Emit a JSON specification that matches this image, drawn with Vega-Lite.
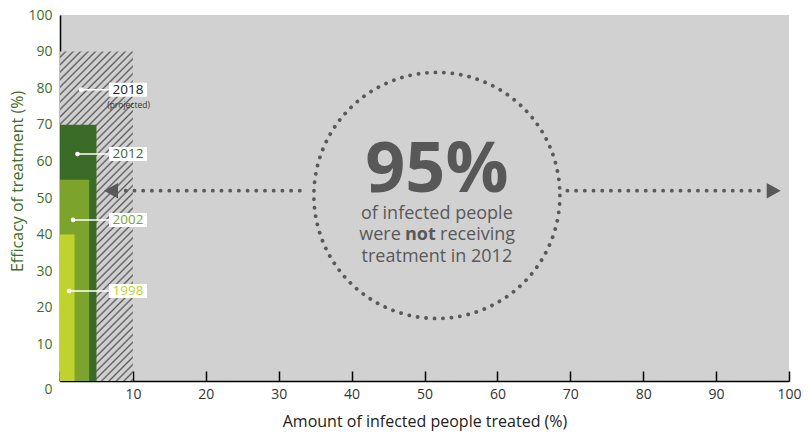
{
  "$schema": "https://vega.github.io/schema/vega-lite/v6.json",
  "width": 729,
  "height": 366,
  "autosize": {"type": "none"},
  "padding": {"left": 60, "top": 15, "right": 19, "bottom": 58},
  "background": "white",
  "config": {
    "view": {"fill": "#d1d1d1", "stroke": null},
    "font": "Open Sans",
    "axis": {"grid": false, "domainColor": "#000000", "domainWidth": 1.5, "labelFont": "Open Sans", "titleFont": "Open Sans", "titleFontWeight": "normal", "labelOverlap": false, "labelSeparation": 0, "labelFlush": false, "labelBound": false}
  },
  "datasets": {
    "bars": [
      {"year": "2012", "treated": 5, "efficacy": 70},
      {"year": "2002", "treated": 4, "efficacy": 55},
      {"year": "1998", "treated": 2, "efficacy": 40}
    ],
    "projected": [{"year": "2018", "treated": 10, "efficacy": 90}],
    "labels": [
      {"year": "2018", "dotX": 2.9, "y": 79.6, "labelX": 9.33},
      {"year": "2012", "dotX": 2.4, "y": 62.0, "labelX": 9.33},
      {"year": "2002", "dotX": 1.8, "y": 44.0, "labelX": 9.33},
      {"year": "1998", "dotX": 1.25, "y": 24.6, "labelX": 9.33}
    ],
    "notes": [{"text": "(projected)", "x": 9.4, "y": 75.5}],
    "arrows": [
      {"dir": "left", "from": 32.9, "to": 8.2, "y": 52, "head": 7.0},
      {"dir": "right", "from": 69.6, "to": 96.6, "y": 52, "head": 97.9}
    ],
    "callout": [{"x": 51.7, "y": 50.7}],
    "big": [{"text": "95%", "x": 51.7, "y": 51.7}],
    "lines": [
      {"text": "of infected people", "x": 51.7, "y": 44.3},
      {"text": "treatment in 2012", "x": 51.7, "y": 32.5}
    ],
    "line2": [{"were": "were", "not": "not", "receiving": "receiving", "xWere": 46.75, "xNot": 49.44, "xRec": 52.13, "y": 38.4}]
  },
  "layer": [
    {
      "data": {"name": "projected"},
      "mark": {
        "type": "rect",
        "fill": {
          "gradient": "linear", "x1": 0, "y1": 0, "x2": 0.2586, "y2": 1.165,
          "stops": [
            {"offset": 0, "color": "#d0d0d0"}, {"offset": 0.0093, "color": "#d0d0d0"}, {"offset": 0.0144, "color": "#5a5a5a"},
            {"offset": 0.0185, "color": "#d0d0d0"}, {"offset": 0.0278, "color": "#d0d0d0"}, {"offset": 0.0329, "color": "#5a5a5a"},
            {"offset": 0.0370, "color": "#d0d0d0"}, {"offset": 0.0463, "color": "#d0d0d0"}, {"offset": 0.0514, "color": "#5a5a5a"},
            {"offset": 0.0556, "color": "#d0d0d0"}, {"offset": 0.0648, "color": "#d0d0d0"}, {"offset": 0.0700, "color": "#5a5a5a"},
            {"offset": 0.0741, "color": "#d0d0d0"}, {"offset": 0.0833, "color": "#d0d0d0"}, {"offset": 0.0885, "color": "#5a5a5a"},
            {"offset": 0.0926, "color": "#d0d0d0"}, {"offset": 0.1019, "color": "#d0d0d0"}, {"offset": 0.1070, "color": "#5a5a5a"},
            {"offset": 0.1111, "color": "#d0d0d0"}, {"offset": 0.1204, "color": "#d0d0d0"}, {"offset": 0.1255, "color": "#5a5a5a"},
            {"offset": 0.1296, "color": "#d0d0d0"}, {"offset": 0.1389, "color": "#d0d0d0"}, {"offset": 0.1441, "color": "#5a5a5a"},
            {"offset": 0.1481, "color": "#d0d0d0"}, {"offset": 0.1574, "color": "#d0d0d0"}, {"offset": 0.1626, "color": "#5a5a5a"},
            {"offset": 0.1667, "color": "#d0d0d0"}, {"offset": 0.1759, "color": "#d0d0d0"}, {"offset": 0.1811, "color": "#5a5a5a"},
            {"offset": 0.1852, "color": "#d0d0d0"}, {"offset": 0.1944, "color": "#d0d0d0"}, {"offset": 0.1996, "color": "#5a5a5a"},
            {"offset": 0.2037, "color": "#d0d0d0"}, {"offset": 0.2130, "color": "#d0d0d0"}, {"offset": 0.2181, "color": "#5a5a5a"},
            {"offset": 0.2222, "color": "#d0d0d0"}, {"offset": 0.2315, "color": "#d0d0d0"}, {"offset": 0.2367, "color": "#5a5a5a"},
            {"offset": 0.2407, "color": "#d0d0d0"}, {"offset": 0.2500, "color": "#d0d0d0"}, {"offset": 0.2552, "color": "#5a5a5a"},
            {"offset": 0.2593, "color": "#d0d0d0"}, {"offset": 0.2685, "color": "#d0d0d0"}, {"offset": 0.2737, "color": "#5a5a5a"},
            {"offset": 0.2778, "color": "#d0d0d0"}, {"offset": 0.2870, "color": "#d0d0d0"}, {"offset": 0.2922, "color": "#5a5a5a"},
            {"offset": 0.2963, "color": "#d0d0d0"}, {"offset": 0.3056, "color": "#d0d0d0"}, {"offset": 0.3107, "color": "#5a5a5a"},
            {"offset": 0.3148, "color": "#d0d0d0"}, {"offset": 0.3241, "color": "#d0d0d0"}, {"offset": 0.3293, "color": "#5a5a5a"},
            {"offset": 0.3333, "color": "#d0d0d0"}, {"offset": 0.3426, "color": "#d0d0d0"}, {"offset": 0.3478, "color": "#5a5a5a"},
            {"offset": 0.3519, "color": "#d0d0d0"}, {"offset": 0.3611, "color": "#d0d0d0"}, {"offset": 0.3663, "color": "#5a5a5a"},
            {"offset": 0.3704, "color": "#d0d0d0"}, {"offset": 0.3796, "color": "#d0d0d0"}, {"offset": 0.3848, "color": "#5a5a5a"},
            {"offset": 0.3889, "color": "#d0d0d0"}, {"offset": 0.3981, "color": "#d0d0d0"}, {"offset": 0.4033, "color": "#5a5a5a"},
            {"offset": 0.4074, "color": "#d0d0d0"}, {"offset": 0.4167, "color": "#d0d0d0"}, {"offset": 0.4219, "color": "#5a5a5a"},
            {"offset": 0.4259, "color": "#d0d0d0"}, {"offset": 0.4352, "color": "#d0d0d0"}, {"offset": 0.4404, "color": "#5a5a5a"},
            {"offset": 0.4444, "color": "#d0d0d0"}, {"offset": 0.4537, "color": "#d0d0d0"}, {"offset": 0.4589, "color": "#5a5a5a"},
            {"offset": 0.4630, "color": "#d0d0d0"}, {"offset": 0.4722, "color": "#d0d0d0"}, {"offset": 0.4774, "color": "#5a5a5a"},
            {"offset": 0.4815, "color": "#d0d0d0"}, {"offset": 0.4907, "color": "#d0d0d0"}, {"offset": 0.4959, "color": "#5a5a5a"},
            {"offset": 0.5000, "color": "#d0d0d0"}, {"offset": 0.5093, "color": "#d0d0d0"}, {"offset": 0.5144, "color": "#5a5a5a"},
            {"offset": 0.5185, "color": "#d0d0d0"}, {"offset": 0.5278, "color": "#d0d0d0"}, {"offset": 0.5329, "color": "#5a5a5a"},
            {"offset": 0.5370, "color": "#d0d0d0"}, {"offset": 0.5463, "color": "#d0d0d0"}, {"offset": 0.5515, "color": "#5a5a5a"},
            {"offset": 0.5556, "color": "#d0d0d0"}, {"offset": 0.5648, "color": "#d0d0d0"}, {"offset": 0.5700, "color": "#5a5a5a"},
            {"offset": 0.5741, "color": "#d0d0d0"}, {"offset": 0.5833, "color": "#d0d0d0"}, {"offset": 0.5885, "color": "#5a5a5a"},
            {"offset": 0.5926, "color": "#d0d0d0"}, {"offset": 0.6019, "color": "#d0d0d0"}, {"offset": 0.6070, "color": "#5a5a5a"},
            {"offset": 0.6111, "color": "#d0d0d0"}, {"offset": 0.6204, "color": "#d0d0d0"}, {"offset": 0.6255, "color": "#5a5a5a"},
            {"offset": 0.6296, "color": "#d0d0d0"}, {"offset": 0.6389, "color": "#d0d0d0"}, {"offset": 0.6441, "color": "#5a5a5a"},
            {"offset": 0.6481, "color": "#d0d0d0"}, {"offset": 0.6574, "color": "#d0d0d0"}, {"offset": 0.6626, "color": "#5a5a5a"},
            {"offset": 0.6667, "color": "#d0d0d0"}, {"offset": 0.6759, "color": "#d0d0d0"}, {"offset": 0.6811, "color": "#5a5a5a"},
            {"offset": 0.6852, "color": "#d0d0d0"}, {"offset": 0.6944, "color": "#d0d0d0"}, {"offset": 0.6996, "color": "#5a5a5a"},
            {"offset": 0.7037, "color": "#d0d0d0"}, {"offset": 0.7130, "color": "#d0d0d0"}, {"offset": 0.7181, "color": "#5a5a5a"},
            {"offset": 0.7222, "color": "#d0d0d0"}, {"offset": 0.7315, "color": "#d0d0d0"}, {"offset": 0.7367, "color": "#5a5a5a"},
            {"offset": 0.7407, "color": "#d0d0d0"}, {"offset": 0.7500, "color": "#d0d0d0"}, {"offset": 0.7552, "color": "#5a5a5a"},
            {"offset": 0.7593, "color": "#d0d0d0"}, {"offset": 0.7685, "color": "#d0d0d0"}, {"offset": 0.7737, "color": "#5a5a5a"},
            {"offset": 0.7778, "color": "#d0d0d0"}, {"offset": 0.7870, "color": "#d0d0d0"}, {"offset": 0.7922, "color": "#5a5a5a"},
            {"offset": 0.7963, "color": "#d0d0d0"}, {"offset": 0.8056, "color": "#d0d0d0"}, {"offset": 0.8107, "color": "#5a5a5a"},
            {"offset": 0.8148, "color": "#d0d0d0"}, {"offset": 0.8241, "color": "#d0d0d0"}, {"offset": 0.8293, "color": "#5a5a5a"},
            {"offset": 0.8333, "color": "#d0d0d0"}, {"offset": 0.8426, "color": "#d0d0d0"}, {"offset": 0.8478, "color": "#5a5a5a"},
            {"offset": 0.8519, "color": "#d0d0d0"}, {"offset": 0.8611, "color": "#d0d0d0"}, {"offset": 0.8663, "color": "#5a5a5a"},
            {"offset": 0.8704, "color": "#d0d0d0"}, {"offset": 0.8796, "color": "#d0d0d0"}, {"offset": 0.8848, "color": "#5a5a5a"},
            {"offset": 0.8889, "color": "#d0d0d0"}, {"offset": 0.8981, "color": "#d0d0d0"}, {"offset": 0.9033, "color": "#5a5a5a"},
            {"offset": 0.9074, "color": "#d0d0d0"}, {"offset": 0.9167, "color": "#d0d0d0"}, {"offset": 0.9219, "color": "#5a5a5a"},
            {"offset": 0.9259, "color": "#d0d0d0"}, {"offset": 0.9352, "color": "#d0d0d0"}, {"offset": 0.9404, "color": "#5a5a5a"},
            {"offset": 0.9444, "color": "#d0d0d0"}, {"offset": 0.9537, "color": "#d0d0d0"}, {"offset": 0.9589, "color": "#5a5a5a"},
            {"offset": 0.9630, "color": "#d0d0d0"}, {"offset": 0.9722, "color": "#d0d0d0"}, {"offset": 0.9774, "color": "#5a5a5a"},
            {"offset": 0.9815, "color": "#d0d0d0"}, {"offset": 0.9907, "color": "#d0d0d0"}, {"offset": 0.9959, "color": "#5a5a5a"},
            {"offset": 1, "color": "#d0d0d0"}
          ]
        }
      },
      "encoding": {
        "x": {"field": "treated", "type": "quantitative", "scale": {"domain": [0, 100], "nice": false},
          "axis": {
            "title": "Amount of infected people treated (%)",
            "values": [0, 10, 20, 30, 40, 50, 60, 70, 80, 90, 100],
            "tickCount": 20,
            "labelExpr": "datum.value === 0 ? '' : datum.label",
            "labelFontSize": 14, "labelColor": "#333333", "labelOverlap": false,
            "ticks": true, "tickSize": -10, "tickColor": "#000000", "tickWidth": 1.5,
            "labelPadding": 16, "labelBaseline": "top",
            "titleFontSize": 16, "titleColor": "#222222", "titleY": 40, "titleBaseline": "middle"
          }
        },
        "x2": {"datum": 0},
        "y": {"field": "efficacy", "type": "quantitative", "scale": {"domain": [0, 100], "nice": false},
          "axis": {
            "title": "Efficacy of treatment (%)",
            "values": [0, 10, 20, 30, 40, 50, 60, 70, 80, 90, 100],
            "tickCount": 20,
            "labelFontSize": 14, "labelColor": "#3f6e2a", "labelOverlap": false,
            "ticks": true, "tickSize": 0, "tickOpacity": 0, "labelPadding": 8,
            "labelBaseline": "middle",
            "labelOffset": {"condition": {"test": "datum.value === 0", "value": 8}, "value": 0},
            "titleFontSize": 16, "titleColor": "#3f6e2a",
            "titleAngle": -90, "titleX": -43, "titleY": 166, "titleAlign": "center", "titleBaseline": "middle"
          }
        },
        "y2": {"datum": 0}
      }
    },
    {
      "data": {"name": "bars"},
      "mark": {"type": "rect"},
      "encoding": {
        "x": {"field": "treated", "type": "quantitative"},
        "x2": {"datum": 0},
        "y": {"field": "efficacy", "type": "quantitative"},
        "y2": {"datum": 0},
        "fill": {"field": "year", "type": "nominal", "sort": null,
          "scale": {"domain": ["1998", "2002", "2012", "2018"], "range": ["#c0d22e", "#7ca32c", "#3a6b27", "#222222"]},
          "legend": null}
      }
    },
    {
      "data": {"name": "labels"},
      "mark": {"type": "rule", "color": "#ffffff", "strokeWidth": 1.5},
      "encoding": {
        "x": {"field": "dotX", "type": "quantitative"},
        "x2": {"field": "labelX"},
        "y": {"field": "y", "type": "quantitative"}
      }
    },
    {
      "data": {"name": "labels"},
      "mark": {"type": "point", "shape": "circle", "filled": true, "fill": "#ffffff", "opacity": 1, "size": 22},
      "encoding": {
        "x": {"field": "dotX", "type": "quantitative"},
        "y": {"field": "y", "type": "quantitative"}
      }
    },
    {
      "data": {"name": "labels"},
      "mark": {"type": "point", "shape": "M-19,-7L19,-7L19,7L-19,7Z", "filled": true, "fill": "#ffffff", "opacity": 1, "size": 4},
      "encoding": {
        "x": {"field": "labelX", "type": "quantitative"},
        "y": {"field": "y", "type": "quantitative"}
      }
    },
    {
      "data": {"name": "labels"},
      "mark": {"type": "text", "fontSize": 13.5, "align": "center", "baseline": "middle", "font": "Open Sans"},
      "encoding": {
        "x": {"field": "labelX", "type": "quantitative"},
        "y": {"field": "y", "type": "quantitative"},
        "text": {"field": "year"},
        "color": {"field": "year", "type": "nominal",
          "scale": {"domain": ["1998", "2002", "2012", "2018"], "range": ["#c0d22e", "#7ca32c", "#3a6b27", "#222222"]},
          "legend": null}
      }
    },
    {
      "data": {"name": "notes"},
      "mark": {"type": "text", "fontSize": 8.5, "align": "center", "baseline": "middle", "color": "#333333"},
      "encoding": {
        "x": {"field": "x", "type": "quantitative"},
        "y": {"field": "y", "type": "quantitative"},
        "text": {"field": "text"}
      }
    },
    {
      "data": {"name": "arrows"},
      "mark": {"type": "rule", "color": "#595959", "strokeWidth": 3.8, "strokeDash": [0.1, 8.6], "strokeCap": "round"},
      "encoding": {
        "x": {"field": "from", "type": "quantitative"},
        "x2": {"field": "to"},
        "y": {"field": "y", "type": "quantitative"}
      }
    },
    {
      "data": {"name": "arrows"},
      "mark": {"type": "point", "filled": true, "fill": "#595959", "opacity": 1, "size": 196},
      "encoding": {
        "x": {"field": "head", "type": "quantitative"},
        "y": {"field": "y", "type": "quantitative"},
        "shape": {"field": "dir", "type": "nominal",
          "scale": {"domain": ["left", "right"], "range": ["M-1,0L1,-1.1L1,1.1Z", "M1,0L-1,-1.1L-1,1.1Z"]},
          "legend": null}
      }
    },
    {
      "data": {"name": "callout"},
      "mark": {"type": "point", "shape": "circle", "filled": false, "fill": null, "stroke": "#595959", "strokeWidth": 3.8, "strokeDash": [0.1, 8.4], "strokeCap": "round", "opacity": 1, "size": 60516},
      "encoding": {
        "x": {"field": "x", "type": "quantitative"},
        "y": {"field": "y", "type": "quantitative"}
      }
    },
    {
      "data": {"name": "big"},
      "mark": {"type": "text", "fontSize": 70, "fontWeight": "bold", "align": "center", "baseline": "alphabetic", "color": "#585858"},
      "encoding": {
        "x": {"field": "x", "type": "quantitative"},
        "y": {"field": "y", "type": "quantitative"},
        "text": {"field": "text"}
      }
    },
    {
      "data": {"name": "lines"},
      "mark": {"type": "text", "fontSize": 18, "align": "center", "baseline": "alphabetic", "color": "#595959"},
      "encoding": {
        "x": {"field": "x", "type": "quantitative"},
        "y": {"field": "y", "type": "quantitative"},
        "text": {"field": "text"}
      }
    },
    {
      "data": {"name": "line2"},
      "mark": {"type": "text", "fontSize": 18, "align": "right", "baseline": "alphabetic", "color": "#595959"},
      "encoding": {
        "x": {"field": "xWere", "type": "quantitative"},
        "y": {"field": "y", "type": "quantitative"},
        "text": {"field": "were"}
      }
    },
    {
      "data": {"name": "line2"},
      "mark": {"type": "text", "fontSize": 18, "fontWeight": "bold", "align": "center", "baseline": "alphabetic", "color": "#595959"},
      "encoding": {
        "x": {"field": "xNot", "type": "quantitative"},
        "y": {"field": "y", "type": "quantitative"},
        "text": {"field": "not"}
      }
    },
    {
      "data": {"name": "line2"},
      "mark": {"type": "text", "fontSize": 18, "align": "left", "baseline": "alphabetic", "color": "#595959"},
      "encoding": {
        "x": {"field": "xRec", "type": "quantitative"},
        "y": {"field": "y", "type": "quantitative"},
        "text": {"field": "receiving"}
      }
    }
  ]
}
